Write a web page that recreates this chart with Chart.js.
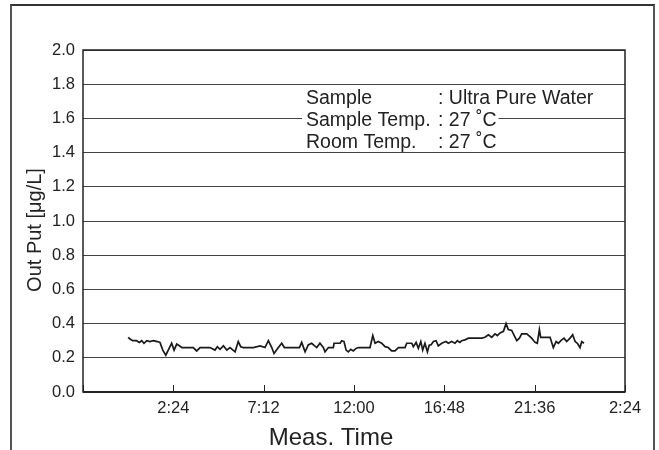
<!DOCTYPE html>
<html lang="en">
<head>
    <meta charset="UTF-8">
    <title>Out Put vs Meas. Time</title>
    <style>
        body {
            margin: 0;
            padding: 0;
            background: #fff;
        }
        #wrap {
            position: relative;
            width: 659px;
            height: 450px;
            overflow: hidden;
        }
        #frame {
            position: absolute;
            left: 10px;
            top: 4px;
            width: 641px;
            height: 480px;
            border: 2px solid #555;
            border-top-color: #333;
        }
        #chart {
            position: absolute;
            left: 0;
            top: 0;
        }
    </style>
</head>
<body>
    <div id="wrap">
        <div id="frame"></div>
        <canvas id="chart" width="659" height="450"></canvas>
    </div>
    <script src="https://cdn.jsdelivr.net/npm/chart.js@4.4.1/dist/chart.umd.min.js"></script>
    <script>
        const measHours = [
            0.00, 0.10, 0.24, 0.45, 0.59, 0.72, 0.84, 0.99, 1.16, 1.34, 1.55, 1.69, 1.84, 2.00, 2.13, 2.31,
            2.44, 2.58, 2.72, 2.85, 3.11, 3.46, 3.64, 3.82, 4.35, 4.61, 4.74, 4.88, 5.06, 5.24, 5.41, 5.68,
            5.85, 5.98, 6.12, 6.65, 7.01, 7.27, 7.45, 7.63, 7.75, 7.98, 8.16, 8.30, 9.10, 9.22, 9.40, 9.57,
            9.75, 10.02, 10.19, 10.37, 10.46, 10.64, 10.90, 10.94, 11.26, 11.35, 11.47, 11.58, 11.70, 11.83,
            11.96, 12.11, 12.23, 12.85, 13.00, 13.12, 13.29, 13.47, 13.65, 13.82, 14.00, 14.18, 14.36, 14.71,
            14.80, 15.07, 15.15, 15.30, 15.42, 15.55, 15.65, 15.77, 15.90, 16.00, 16.09, 16.22, 16.36, 16.48,
            16.66, 16.89, 17.01, 17.19, 17.37, 17.49, 17.63, 17.72, 17.90, 18.08, 18.61, 18.79, 18.96, 19.14,
            19.32, 19.49, 19.62, 19.76, 19.94, 20.08, 20.20, 20.38, 20.56, 20.65, 20.79, 20.91, 21.18, 21.44,
            21.62, 21.74, 21.85, 21.92, 22.42, 22.59, 22.74, 22.86, 22.99, 23.16, 23.30, 23.48, 23.62, 23.75,
            23.87, 24.01, 24.10, 24.22
        ];
        // output in ug/L
        const outPut = [
            0.320, 0.310, 0.300, 0.300, 0.290, 0.300, 0.285, 0.300, 0.295, 0.300, 0.295, 0.290, 0.245, 0.215, 0.245, 0.285,
            0.245, 0.280, 0.270, 0.260, 0.260, 0.260, 0.240, 0.260, 0.260, 0.245, 0.265, 0.250, 0.270, 0.245, 0.260, 0.235,
            0.295, 0.265, 0.260, 0.260, 0.270, 0.260, 0.300, 0.260, 0.225, 0.260, 0.285, 0.260, 0.260, 0.290, 0.235, 0.275,
            0.285, 0.260, 0.285, 0.260, 0.235, 0.260, 0.260, 0.285, 0.285, 0.300, 0.295, 0.245, 0.235, 0.250,
            0.240, 0.255, 0.260, 0.260, 0.330, 0.285, 0.295, 0.285, 0.265, 0.260, 0.240, 0.240, 0.260, 0.260,
            0.285, 0.285, 0.265, 0.290, 0.255, 0.295, 0.245, 0.285, 0.235, 0.275, 0.275, 0.295, 0.300, 0.270,
            0.285, 0.295, 0.285, 0.295, 0.285, 0.300, 0.290, 0.300, 0.305, 0.315, 0.315, 0.315, 0.320, 0.335,
            0.320, 0.340, 0.330, 0.345, 0.355, 0.400, 0.365, 0.360, 0.320, 0.300, 0.315, 0.340, 0.340, 0.315,
            0.290, 0.285, 0.365, 0.320, 0.320, 0.260, 0.295, 0.285, 0.300, 0.315, 0.295, 0.315, 0.335, 0.295,
            0.285, 0.260, 0.295, 0.285
        ];

        const xMin = -2.4;      // 21:36 the day before
        const xMax = 26.4;      // 2:24 the day after
        const xStep = 4.8;
        const yMax = 2.0;
        const yStep = 0.2;

        const noteLabels = ['Sample', 'Sample Temp.', 'Room Temp.'];
        const noteValues = [': Ultra Pure Water', ': 27 \u02DAC', ': 27 \u02DAC'];

        const xTitle = 'Meas. Time';
        const yTitle = 'Out Put [\u03BCg/L]';
        const fontFamily = '"Liberation Sans", Arial, Helvetica, sans-serif';

        const points = measHours.map((h, i) => ({ x: h, y: outPut[i] }));

        function hourLabel(value) {
            if (Math.abs(value - xMin) < 1e-6) return '';
            let mins = Math.round(value * 60);
            mins = ((mins % 1440) + 1440) % 1440;
            const h = Math.floor(mins / 60);
            const m = mins % 60;
            return h + ':' + (m < 10 ? '0' : '') + m;
        }

        // frame, inward tick marks, axis titles and the sample note
        const decorations = {
            id: 'decorations',
            afterDraw(chart) {
                const ctx = chart.ctx;
                const area = chart.chartArea;
                const xs = chart.scales.x;
                ctx.save();

                ctx.strokeStyle = '#222';
                ctx.lineWidth = 1.5;
                ctx.strokeRect(area.left, area.top, area.right - area.left, area.bottom - area.top);
                ctx.lineWidth = 2;
                ctx.beginPath();
                ctx.moveTo(area.left, area.bottom);
                ctx.lineTo(area.right, area.bottom);
                ctx.stroke();

                ctx.lineWidth = 1;
                xs.ticks.forEach((t, i) => {
                    const px = Math.round(xs.getPixelForTick(i)) + 0.5;
                    ctx.beginPath();
                    ctx.moveTo(px, area.bottom);
                    ctx.lineTo(px, area.bottom - 7);
                    ctx.stroke();
                });

                ctx.fillStyle = '#222';
                ctx.font = '24px ' + fontFamily;
                ctx.textAlign = 'center';
                ctx.textBaseline = 'alphabetic';
                ctx.fillText(xTitle, 331, 445);

                ctx.save();
                ctx.translate(41, 230);
                ctx.rotate(-Math.PI / 2);
                ctx.font = '20px ' + fontFamily;
                ctx.fillText(yTitle, 0, 0);
                ctx.restore();

                ctx.font = '19.5px ' + fontFamily;
                ctx.textAlign = 'left';
                const valueX = 438;
                noteLabels.forEach((label, i) => {
                    const base = 104 + i * 22;
                    const endX = valueX + ctx.measureText(noteValues[i]).width;
                    ctx.fillStyle = '#fff';
                    ctx.fillRect(302, base - 15, endX - 302 + 2, 18);
                    ctx.fillStyle = '#222';
                    ctx.fillText(label, 306, base);
                    ctx.fillText(noteValues[i], valueX, base);
                });

                ctx.restore();
            }
        };

        const ctx = document.getElementById('chart').getContext('2d');
        const chart = new Chart(ctx, {
            type: 'line',
            data: {
                datasets: [{
                    label: 'Out Put',
                    data: points,
                    borderColor: '#1a1a1a',
                    borderWidth: 1.7,
                    pointRadius: 0,
                    tension: 0,
                    fill: false
                }]
            },
            options: {
                responsive: false,
                animation: false,
                layout: {
                    padding: { top: 50, right: 34, left: 0, bottom: 0 }
                },
                plugins: {
                    legend: { display: false },
                    tooltip: { enabled: false }
                },
                scales: {
                    x: {
                        type: 'linear',
                        min: xMin,
                        max: xMax,
                        border: { display: false },
                        grid: { display: false, drawTicks: false },
                        ticks: {
                            stepSize: xStep,
                            autoSkip: false,
                            maxRotation: 0,
                            padding: 7,
                            color: '#222',
                            font: { family: fontFamily, size: 16.5 },
                            callback: (v) => hourLabel(v)
                        },
                        afterFit(scale) { scale.height = 58; }
                    },
                    y: {
                        min: 0,
                        max: yMax,
                        border: { display: false },
                        grid: { color: '#444', lineWidth: 1, drawTicks: false },
                        ticks: {
                            stepSize: yStep,
                            padding: 8,
                            color: '#222',
                            font: { family: fontFamily, size: 16.5 },
                            callback: (v) => Number(v).toFixed(1)
                        },
                        afterFit(scale) { scale.width = 83; }
                    }
                }
            },
            plugins: [decorations]
        });
    </script>
</body>
</html>
